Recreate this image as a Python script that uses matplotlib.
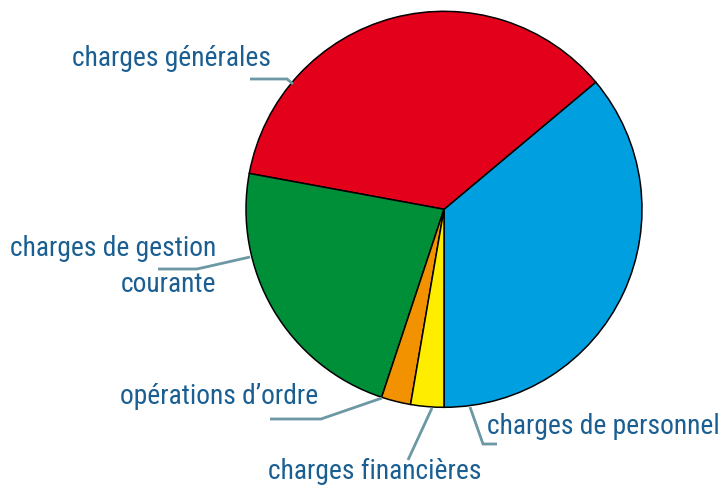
import matplotlib
matplotlib.use("Agg")
import matplotlib.pyplot as plt
from matplotlib import font_manager

labels = ["charges de personnel", "charges générales", "charges de gestion\ncourante",
          "opérations d’ordre", "charges financières"]
values = [36.1, 36.0, 22.8, 2.4, 2.7]
colors = ["#009fe0", "#e2001a", "#008f39", "#f39200", "#ffed00"]

W, H = 721, 488
fig = plt.figure(figsize=(W / 100, H / 100), dpi=100)
ax = fig.add_axes([0, 0, 1, 1])

names = {f.name for f in font_manager.fontManager.ttflist}
fam = [f for f in ["Roboto Condensed", "Liberation Sans Narrow", "DejaVu Sans"] if f in names] + ["DejaVu Sans"]

cx, cy, r = 444, H - 209.3, 198
ax.pie(values, colors=colors, startangle=-90, counterclock=True, center=(cx, cy), radius=r,
       wedgeprops=dict(edgecolor="black", linewidth=1.1), frame=True)
ax.set_xlim(0, W)
ax.set_ylim(0, H)
ax.set_aspect("equal")
ax.axis("off")

tc = "#1a5e92"
lc = "#6b98a3"
fs = 19.8

def P(x, y):
    return (x, H - y)

def leader(pts):
    xs = [p[0] for p in pts]
    ys = [H - p[1] for p in pts]
    ax.plot(xs, ys, color=lc, lw=2.0, solid_capstyle="butt", solid_joinstyle="miter")

# charges générales
leader([(250, 79), (287, 79), (293, 84)])
ax.text(*P(271, 58), labels[1], ha="right", va="center", fontsize=fs, color=tc, family=fam)
# charges de gestion courante
leader([(158, 269), (197, 269), (250, 257)])
ax.text(*P(216, 249), "charges de gestion", ha="right", va="center", fontsize=fs, color=tc, family=fam)
ax.text(*P(216, 285), "courante", ha="right", va="center", fontsize=fs, color=tc, family=fam)
# opérations d'ordre
leader([(270, 419), (321, 419), (382, 398)])
ax.text(*P(318, 397), labels[3], ha="right", va="center", fontsize=fs, color=tc, family=fam)
# charges financières
leader([(408, 460), (432, 408)])
ax.text(*P(375, 471), labels[4], ha="center", va="center", fontsize=fs, color=tc, family=fam)
# charges de personnel
leader([(470, 407), (483, 444), (497, 444)])
ax.text(*P(487, 427), labels[0], ha="left", va="center", fontsize=fs, color=tc, family=fam)

fig.savefig("out.png", dpi=100)
